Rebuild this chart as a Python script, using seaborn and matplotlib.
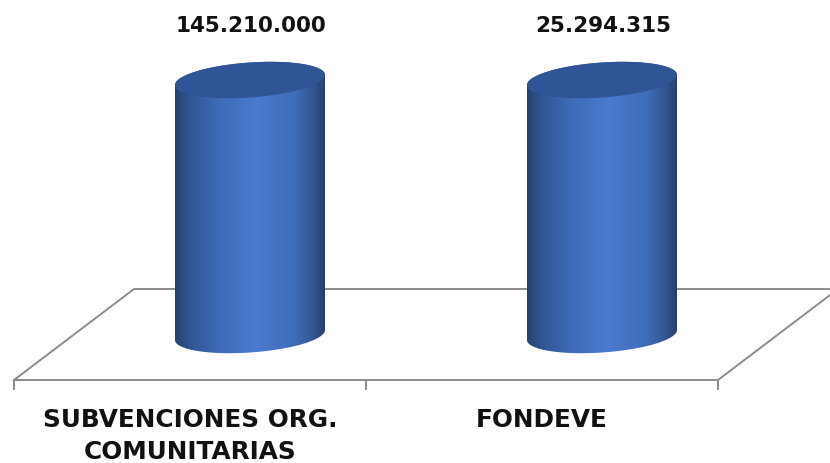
import numpy as np
import pandas as pd
import matplotlib
matplotlib.use('Agg')
import matplotlib.pyplot as plt
from matplotlib.colors import LinearSegmentedColormap
from matplotlib.patches import PathPatch
from matplotlib.path import Path
import seaborn as sns

categories = ["SUBVENCIONES ORG.\nCOMUNITARIAS", "FONDEVE"]
value_labels = ["145.210.000", "25.294.315"]
# the cylinders in the picture are the same height whatever the label says
bar_heights = [255, 255]

GREY = "#8c8c8c"
TOP_COLOR = "#2f5596"

sns.set_theme(style="white")
plt.rcParams['font.family'] = ['DejaVu Sans']

fig = plt.figure(figsize=(8.3, 4.63), dpi=100)
ax = fig.add_axes([14 / 830, 83 / 463, 704 / 830, 380 / 463])
ax.patch.set_alpha(0)

dta = pd.DataFrame({"cat": categories, "height": bar_heights})
sns.barplot(data=dta, x="cat", y="height", width=150 / 352, color="#4472c4", ax=ax)

ax.set_xlim(-0.5, 1.5)
ax.set_ylim(0, 380)
ax.set_xlabel("")
ax.set_ylabel("")
ax.set_yticks([])

# floor of the 3d box
depth_x = 120 / 352
depth_y = 91
ax.plot([-0.5, -0.5 + depth_x, 1.5 + depth_x, 1.5], [0, depth_y, depth_y, 0],
        color=GREY, lw=1.4, clip_on=False, zorder=1)

sns.despine(ax=ax, left=True)
ax.spines['bottom'].set_color(GREY)
ax.spines['bottom'].set_linewidth(1.4)
ax.set_xticks([-0.5, 0.5, 1.5], minor=True)
ax.tick_params(axis='x', which='minor', bottom=True, length=7, width=1.4, color=GREY, direction='out')
ax.tick_params(axis='x', which='major', length=0, pad=20)
ax.set_xticks([0, 1])
ax.set_xticklabels(categories, fontsize=17.8, fontweight='bold', color='#111111', linespacing=1.45)

side_cmap = LinearSegmentedColormap.from_list("side", [
    (0.0, "#24416f"), (0.08, "#2f5391"), (0.3, "#3f6cb8"), (0.55, "#4a7bd0"),
    (0.8, "#3f6cb8"), (0.93, "#31548f"), (1.0, "#25406c")])
grad = np.linspace(0, 1, 256).reshape(1, -1)

shift_x = 60 / 352
shift_y = 45
slope = 10 / 150
semi_b = 17.5
t = np.linspace(0, np.pi, 80)

for bar, lab in zip(ax.patches, value_labels):
    bar.set_visible(False)
    x0 = bar.get_x() + shift_x
    w = bar.get_width()
    h = bar.get_height()
    cx = x0 + w / 2
    base = shift_y
    top = base + h

    # sheared ellipses so that the tilt matches the picture
    ex = np.cos(t)
    up = semi_b * np.sin(t) + slope * 75 * ex
    down = -semi_b * np.sin(t) + slope * 75 * ex
    xs = cx + ex * w / 2

    body = np.column_stack([np.r_[xs, xs[::-1]], np.r_[top + up, base + down[::-1]]])
    body_path = Path(np.vstack([body, body[0]]), closed=True)
    im = ax.imshow(grad, extent=[x0, x0 + w, base - 30, top + 30], aspect='auto',
                   cmap=side_cmap, zorder=2, interpolation='bilinear')
    im.set_clip_path(PathPatch(body_path, transform=ax.transData))

    cap = np.column_stack([np.r_[xs, xs[::-1]], np.r_[top + up, top + down[::-1]]])
    ax.add_patch(PathPatch(Path(np.vstack([cap, cap[0]]), closed=True),
                           facecolor=TOP_COLOR, edgecolor='none', zorder=3))

    ax.text(cx + 0.004, top + 54, lab, ha='center', va='center', fontsize=15.5,
            fontweight='bold', color='#111111', zorder=4)

ax.set_xlim(-0.5, 1.5)
ax.set_ylim(0, 380)

plt.savefig('out.png', dpi=100)
